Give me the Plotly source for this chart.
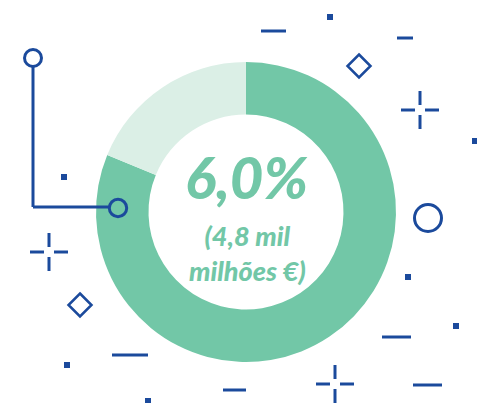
import plotly.graph_objects as go

# Data
slice_labels = ["Share", "Remainder"]
slice_values = [81.2, 18.8]
slice_colors = ["#72C7A7", "#DBEFE6"]
headline = "6,0%"
subline_1 = "(4,8 mil"
subline_2 = "milhões €)"

W, H = 477, 403
BLUE = "#1B4A9C"
GREEN = "#72C7A7"


def px(x):
    return x / W


def py(y):
    return 1 - y / H


fig = go.Figure()
fig.add_trace(go.Pie(
    labels=slice_labels,
    values=slice_values,
    marker=dict(colors=slice_colors, line=dict(width=0)),
    hole=0.65,
    sort=False,
    direction="clockwise",
    rotation=0,
    textinfo="none",
    hoverinfo="label+percent",
    showlegend=False,
    domain=dict(x=[px(96), px(396)], y=[py(362), py(62)]),
))

shapes = []


def seg(x0, y0, x1, y1, w=3):
    shapes.append(dict(type="line", xref="paper", yref="paper",
                       x0=px(x0), y0=py(y0), x1=px(x1), y1=py(y1),
                       line=dict(color=BLUE, width=w)))


def sq(cx, cy, s=6):
    shapes.append(dict(type="rect", xref="paper", yref="paper",
                       x0=px(cx - s / 2), y0=py(cy + s / 2), x1=px(cx + s / 2), y1=py(cy - s / 2),
                       fillcolor=BLUE, line=dict(width=0)))


def ring(cx, cy, r, w=3):
    shapes.append(dict(type="circle", xref="paper", yref="paper",
                       x0=px(cx - r), y0=py(cy + r), x1=px(cx + r), y1=py(cy - r),
                       line=dict(color=BLUE, width=w), fillcolor="rgba(0,0,0,0)"))


def diamond(cx, cy, r, w=2.5):
    path = "M {} {} L {} {} L {} {} L {} {} Z".format(
        px(cx), py(cy - r), px(cx + r), py(cy), px(cx), py(cy + r), px(cx - r), py(cy))
    shapes.append(dict(type="path", xref="paper", yref="paper", path=path,
                       line=dict(color=BLUE, width=w)))


def cross(cx, cy, inner=5, outer=19, w=3):
    seg(cx - outer, cy, cx - inner, cy, w)
    seg(cx + inner, cy, cx + outer, cy, w)
    seg(cx, cy - outer, cx, cy - inner, w)
    seg(cx, cy + inner, cx, cy + outer, w)


# bracket connector
seg(33, 67, 33, 207)
seg(33, 207, 110, 207)
ring(33, 58, 8.5)
ring(118, 208, 8.7)

# decorations
sq(64, 177)
cross(49, 252)
diamond(80, 305, 11.5)
seg(112, 355, 148, 355)
sq(67, 365)
sq(148, 401)
seg(223, 390, 246, 390)
seg(261, 31, 286, 31)
sq(330, 17)
seg(397, 38, 413, 38)
diamond(359, 66, 11.5)
cross(420, 110)
sq(475, 141)
ring(428, 218, 13.5)
sq(408, 277)
sq(456, 326)
seg(382, 337, 411, 337)
cross(335, 384)
seg(413, 385, 442, 385)

font_main = dict(family="Lato, 'Open Sans', sans-serif", color=GREEN, weight=900, style="italic")

annotations = [
    dict(text=headline, x=px(246), y=py(176), xref="paper", yref="paper",
         showarrow=False, xanchor="center", yanchor="middle",
         font=dict(size=58, **font_main)),
    dict(text=subline_1 + "<br>" + subline_2, x=px(247), y=py(253), xref="paper", yref="paper",
         showarrow=False, xanchor="center", yanchor="middle", align="center",
         font=dict(size=27, **font_main)),
]

fig.update_layout(
    width=W, height=H, autosize=False,
    margin=dict(l=0, r=0, t=0, b=0),
    paper_bgcolor="white", plot_bgcolor="white",
    shapes=shapes, annotations=annotations,
)

fig.write_html("out.html", config={"displayModeBar": False},
               post_script="document.body.style.margin='0';document.body.style.overflow='hidden';")
